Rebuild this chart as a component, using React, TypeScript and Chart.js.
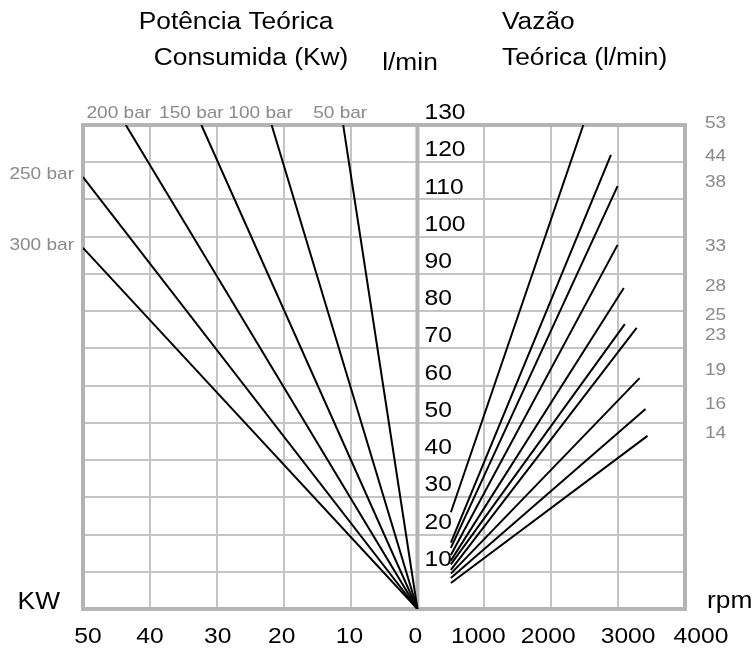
import React, { useEffect, useRef } from "react";
import { Chart, registerables } from "chart.js";

Chart.register(...registerables);

const FONT = '"Liberation Sans", Arial, Helvetica, sans-serif';

// Axis ticks
const kwTicks = [50, 40, 30, 20, 10, 0];
const rpmTicks = [1000, 2000, 3000, 4000];
const flowTicks = [10, 20, 30, 40, 50, 60, 70, 80, 90, 100, 110, 120, 130];

// Power lines (bar) from origin to end point (KW, l/min)
const pressureNames = ["300 bar", "250 bar", "200 bar", "150 bar", "100 bar", "50 bar"];
const pressureEndKw = [50, 50, 43.6, 32.3, 21.8, 11.1];
const pressureEndFlow = [97, 116, 130, 130, 130, 130];

// Flow lines (cm3/rev) from start to end (rpm, l/min)
const displacementNames = ["53", "44", "38", "33", "28", "25", "23", "19", "16", "14"];
const startRpm = [500, 500, 500, 500, 500, 500, 500, 500, 500, 500];
const startFlow = [26, 17.8, 16.4, 14.5, 13, 12, 10.5, 9.5, 8.3, 7];
const endRpm = [2480, 2893, 2992, 2992, 3085, 3100, 3277, 3321, 3410, 3439];
const endFlow = [130, 122, 113.6, 97.8, 86.2, 76.5, 75.5, 62, 53.7, 46.5];

const kwToX = (kw: number) => -kw;
const rpmToX = (rpm: number) => rpm / 100;

const FRAME = "#b4b4b4";
const GRID = "#c4c4c4";
const GRAY_TEXT = "#8a8a8a";
const SX = 1.12;

function drawText(
  ctx: CanvasRenderingContext2D,
  text: string,
  x: number,
  y: number,
  size: number,
  align: CanvasTextAlign,
  color: string
) {
  ctx.save();
  ctx.font = `${size}px ${FONT}`;
  ctx.fillStyle = color;
  ctx.textAlign = align;
  ctx.textBaseline = "middle";
  ctx.translate(x, y);
  ctx.scale(SX, 1);
  ctx.fillText(text, 0, 0);
  ctx.restore();
}

const overlay = {
  id: "overlay",
  beforeDatasetsDraw(chart: any) {
    const { ctx, chartArea } = chart;
    const { left, right, top, bottom } = chartArea;
    const x0 = chart.scales.x.getPixelForValue(0);
    ctx.save();
    ctx.strokeStyle = FRAME;
    ctx.lineWidth = 4;
    ctx.strokeRect(left, top, right - left, bottom - top);
    ctx.beginPath();
    ctx.moveTo(x0, top);
    ctx.lineTo(x0, bottom);
    ctx.stroke();
    ctx.restore();
  },
  afterDatasetsDraw(chart: any) {
    const { ctx, chartArea } = chart;
    const { left, right, top, bottom } = chartArea;
    const xs = chart.scales.x;
    const ys = chart.scales.y;
    const x0 = xs.getPixelForValue(0);

    // center flow labels (l/min)
    flowTicks.forEach((v) => {
      drawText(ctx, String(v), x0 + 7, ys.getPixelForValue(v) - 12, 22, "left", "#000");
    });

    // bottom tick labels
    const kwNudge = [5, 0, 1, -2, -1, -2];
    kwTicks.forEach((k, i) => {
      drawText(ctx, String(k), xs.getPixelForValue(kwToX(k)) + kwNudge[i], bottom + 28, 22, "center", "#000");
    });
    const rpmNudge = [-6, -3, 10, 16];
    rpmTicks.forEach((r, i) => {
      drawText(ctx, String(r), xs.getPixelForValue(rpmToX(r)) + rpmNudge[i], bottom + 28, 22, "center", "#000");
    });

    // titles
    drawText(ctx, "Potência Teórica", 236, 23, 23.5, "center", "#000");
    drawText(ctx, "Consumida (Kw)", 251, 59, 23.5, "center", "#000");
    drawText(ctx, "l/min", 410, 64, 23.5, "center", "#000");
    drawText(ctx, "Vazão", 502, 23, 23.5, "left", "#000");
    drawText(ctx, "Teórica (l/min)", 502, 59, 23.5, "left", "#000");

    // unit labels
    drawText(ctx, "KW", left - 23, bottom - 6, 23.5, "right", "#000");
    drawText(ctx, "rpm", right + 22, bottom - 7, 23.5, "left", "#000");

    // pressure labels
    const topNudge = [0, 0, -7, -10, -11, -3];
    pressureNames.forEach((name, i) => {
      const px = xs.getPixelForValue(kwToX(pressureEndKw[i]));
      const py = ys.getPixelForValue(pressureEndFlow[i]);
      if (pressureEndFlow[i] >= 130) {
        drawText(ctx, name, px + topNudge[i], top - 12, 17, "center", GRAY_TEXT);
      } else {
        drawText(ctx, name, left - 9, py - 3, 17, "right", GRAY_TEXT);
      }
    });

    // displacement labels
    const nudge = [-2, 2, -4, 1, -2, -9, 7, -8, -5, -3];
    displacementNames.forEach((name, i) => {
      const py = ys.getPixelForValue(endFlow[i]);
      drawText(ctx, name, right + 20, py + nudge[i], 17, "left", GRAY_TEXT);
    });
  },
};

export default function App() {
  const canvasRef = useRef<HTMLCanvasElement | null>(null);

  useEffect(() => {
    const canvas = canvasRef.current;
    if (!canvas) return;

    const datasets: any[] = [];
    pressureNames.forEach((name, i) => {
      datasets.push({
        label: name,
        data: [
          { x: kwToX(0), y: 0 },
          { x: kwToX(pressureEndKw[i]), y: pressureEndFlow[i] },
        ],
        borderColor: "#000",
        borderWidth: 2,
        pointRadius: 0,
        fill: false,
      });
    });
    displacementNames.forEach((name, i) => {
      datasets.push({
        label: name,
        data: [
          { x: rpmToX(startRpm[i]), y: startFlow[i] },
          { x: rpmToX(endRpm[i]), y: endFlow[i] },
        ],
        borderColor: "#000",
        borderWidth: 2,
        pointRadius: 0,
        fill: false,
      });
    });

    const chart = new Chart(canvas, {
      type: "line",
      data: { datasets },
      options: {
        animation: false,
        responsive: true,
        maintainAspectRatio: false,
        layout: { padding: { left: 83, right: 71, top: 125, bottom: 0 } },
        plugins: { legend: { display: false }, tooltip: { enabled: false } },
        scales: {
          x: {
            type: "linear",
            min: -50,
            max: 40,
            afterBuildTicks: (scale: any) => {
              scale.ticks = [
                ...kwTicks.map((k) => ({ value: kwToX(k) })),
                ...rpmTicks.map((r) => ({ value: rpmToX(r) })),
              ];
            },
            afterFit: (scale: any) => {
              scale.height = 41;
            },
            ticks: { display: false, autoSkip: false },
            grid: {
              drawTicks: false,
              lineWidth: 2,
              color: (c: any) =>
                c.tick && (c.tick.value === -50 || c.tick.value === 0 || c.tick.value === 40)
                  ? "rgba(0,0,0,0)"
                  : GRID,
            },
            border: { display: false },
          },
          y: {
            type: "linear",
            min: 0,
            max: 130,
            ticks: { stepSize: 10, display: false },
            afterFit: (scale: any) => {
              scale.width = 0;
            },
            grid: {
              drawTicks: false,
              lineWidth: 2,
              color: (c: any) =>
                c.tick && (c.tick.value === 0 || c.tick.value === 130) ? "rgba(0,0,0,0)" : GRID,
            },
            border: { display: false },
          },
        },
      },
      plugins: [overlay],
    });

    return () => chart.destroy();
  }, []);

  return (
    <div style={{ position: "fixed", left: 0, top: 0, width: 756, height: 650, background: "#fff" }}>
      <canvas ref={canvasRef} />
    </div>
  );
}
